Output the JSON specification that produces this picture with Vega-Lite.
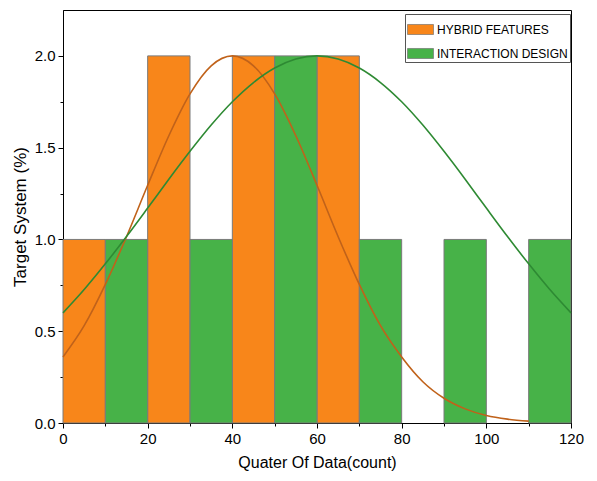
{
  "$schema": "https://vega.github.io/schema/vega-lite/v6.json",
  "width": 508,
  "height": 413,
  "autosize": "none",
  "padding": {"left": 63, "top": 10, "right": 26, "bottom": 58},
  "config": {
    "font": "Liberation Sans",
    "view": {"stroke": "#000", "strokeWidth": 1},
    "axis": {
      "grid": false,
      "domainColor": "#000",
      "tickColor": "#000",
      "labelColor": "#000",
      "titleColor": "#000",
      "labelFontSize": 15,
      "titleFontSize": 16,
      "titleFontWeight": "normal",
      "labelFlush": false,
      "labelOverlap": false
    }
  },
  "datasets": {
    "bars": [
      {"x0": 0, "x1": 10, "count": 1, "series": "HYBRID FEATURES"},
      {"x0": 20, "x1": 30, "count": 2, "series": "HYBRID FEATURES"},
      {"x0": 40, "x1": 50, "count": 2, "series": "HYBRID FEATURES"},
      {"x0": 60, "x1": 70, "count": 2, "series": "HYBRID FEATURES"},
      {"x0": 10, "x1": 20, "count": 1, "series": "INTERACTION DESIGN"},
      {"x0": 30, "x1": 40, "count": 1, "series": "INTERACTION DESIGN"},
      {"x0": 50, "x1": 60, "count": 2, "series": "INTERACTION DESIGN"},
      {"x0": 70, "x1": 80, "count": 1, "series": "INTERACTION DESIGN"},
      {"x0": 90, "x1": 100, "count": 1, "series": "INTERACTION DESIGN"},
      {"x0": 110, "x1": 120, "count": 1, "series": "INTERACTION DESIGN"}
    ],
    "curves": [
      {"x": 0, "y": 0.36, "fit": "HF"},
      {"x": 5, "y": 0.53, "fit": "HF"},
      {"x": 10, "y": 0.755, "fit": "HF"},
      {"x": 15, "y": 1.015, "fit": "HF"},
      {"x": 20, "y": 1.295, "fit": "HF"},
      {"x": 25, "y": 1.565, "fit": "HF"},
      {"x": 30, "y": 1.793, "fit": "HF"},
      {"x": 35, "y": 1.946, "fit": "HF"},
      {"x": 40, "y": 2.0, "fit": "HF"},
      {"x": 45, "y": 1.946, "fit": "HF"},
      {"x": 50, "y": 1.793, "fit": "HF"},
      {"x": 55, "y": 1.565, "fit": "HF"},
      {"x": 60, "y": 1.295, "fit": "HF"},
      {"x": 65, "y": 1.015, "fit": "HF"},
      {"x": 70, "y": 0.755, "fit": "HF"},
      {"x": 75, "y": 0.53, "fit": "HF"},
      {"x": 80, "y": 0.36, "fit": "HF"},
      {"x": 85, "y": 0.225, "fit": "HF"},
      {"x": 90, "y": 0.135, "fit": "HF"},
      {"x": 95, "y": 0.077, "fit": "HF"},
      {"x": 100, "y": 0.041, "fit": "HF"},
      {"x": 105, "y": 0.021, "fit": "HF"},
      {"x": 110, "y": 0.01, "fit": "HF"},
      {"x": 0, "y": 0.6, "fit": "ID"},
      {"x": 5, "y": 0.727, "fit": "ID"},
      {"x": 10, "y": 0.867, "fit": "ID"},
      {"x": 15, "y": 1.016, "fit": "ID"},
      {"x": 20, "y": 1.171, "fit": "ID"},
      {"x": 25, "y": 1.328, "fit": "ID"},
      {"x": 30, "y": 1.48, "fit": "ID"},
      {"x": 35, "y": 1.623, "fit": "ID"},
      {"x": 40, "y": 1.75, "fit": "ID"},
      {"x": 45, "y": 1.855, "fit": "ID"},
      {"x": 50, "y": 1.934, "fit": "ID"},
      {"x": 55, "y": 1.983, "fit": "ID"},
      {"x": 60, "y": 2.0, "fit": "ID"},
      {"x": 65, "y": 1.983, "fit": "ID"},
      {"x": 70, "y": 1.934, "fit": "ID"},
      {"x": 75, "y": 1.855, "fit": "ID"},
      {"x": 80, "y": 1.75, "fit": "ID"},
      {"x": 85, "y": 1.623, "fit": "ID"},
      {"x": 90, "y": 1.48, "fit": "ID"},
      {"x": 95, "y": 1.328, "fit": "ID"},
      {"x": 100, "y": 1.171, "fit": "ID"},
      {"x": 105, "y": 1.016, "fit": "ID"},
      {"x": 110, "y": 0.867, "fit": "ID"},
      {"x": 115, "y": 0.727, "fit": "ID"},
      {"x": 120, "y": 0.6, "fit": "ID"}
    ]
  },
  "layer": [
    {
      "data": {"name": "bars"},
      "mark": {"type": "rect", "stroke": "#7a7a7a", "strokeWidth": 1, "opacity": 1},
      "encoding": {
        "x": {
          "field": "x0",
          "type": "quantitative",
          "scale": {"domain": [0, 120], "nice": false, "zero": false},
          "axis": {
            "title": "Quater Of Data(count)",
            "values": [0, 10, 20, 30, 40, 50, 60, 70, 80, 90, 100, 110, 120],
            "labelExpr": "datum.value % 20 === 0 ? datum.label : ''",
            "tickSize": {"condition": {"test": "datum.value % 20 === 0", "value": 5}, "value": 3},
            "labelPadding": 3,
            "titlePadding": 8
          }
        },
        "x2": {"field": "x1"},
        "y": {
          "field": "count",
          "type": "quantitative",
          "scale": {"domain": [0, 2.25], "nice": false},
          "axis": {
            "title": "Target System (%)",
            "values": [0, 0.25, 0.5, 0.75, 1, 1.25, 1.5, 1.75, 2],
            "labelExpr": "datum.value % 0.5 === 0 ? format(datum.value, '.1f') : ''",
            "tickSize": {"condition": {"test": "datum.value % 0.5 === 0", "value": 5}, "value": 3},
            "labelPadding": 3,
            "titleFontSize": 17,
            "titlePadding": 5
          }
        },
        "y2": {"datum": 0},
        "color": {
          "field": "series",
          "type": "nominal",
          "scale": {"domain": ["HYBRID FEATURES", "INTERACTION DESIGN"], "range": ["#F8861A", "#47B248"]},
          "legend": {
            "title": null,
            "orient": "none",
            "legendX": 342,
            "legendY": 4,
            "symbolType": "M-1,-0.385H1V0.385H-1Z",
            "symbolSize": 676,
            "symbolStrokeColor": "#666",
            "symbolStrokeWidth": 0.6,
            "symbolOpacity": 1,
            "strokeColor": "#555",
            "fillColor": "#fff",
            "padding": 2,
            "labelFontSize": 12,
            "labelColor": "#000",
            "rowPadding": 4,
            "labelOffset": 3
          }
        }
      }
    },
    {
      "data": {"name": "curves"},
      "mark": {"type": "line", "interpolate": "monotone", "strokeWidth": 1.6},
      "encoding": {
        "x": {"field": "x", "type": "quantitative"},
        "y": {"field": "y", "type": "quantitative"},
        "stroke": {
          "field": "fit",
          "type": "nominal",
          "scale": {"domain": ["HF", "ID"], "range": ["#C0621A", "#2E8A33"]},
          "legend": null
        }
      }
    }
  ]
}
